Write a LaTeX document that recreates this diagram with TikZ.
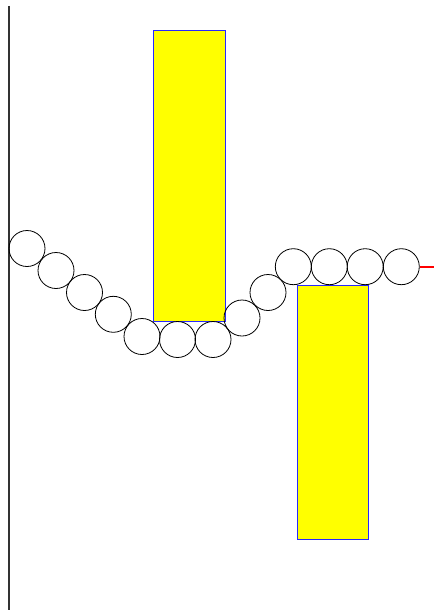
\documentclass[tikz,border=0pt]{standalone}
\definecolor{fillyellow}{RGB}{255,255,0}
\definecolor{edgeblue}{RGB}{40,40,255}
\definecolor{edgered}{RGB}{255,0,0}
\begin{document}
\begin{tikzpicture}[x=1pt,y=-1pt,
  ball/.style={draw=black,line width=0.8pt,circle,minimum size=36pt,inner sep=0pt},
  block/.style={draw=edgeblue,line width=0.8pt,fill=fillyellow}]
\useasboundingbox (0,0) rectangle (434,610);
\draw[line width=1.6pt,black!80] (9,6) -- (9,610);
\node[block,minimum width=72pt,minimum height=291pt,inner sep=0pt,anchor=north west] (r1) at (152.5,30) {};
\node[block,minimum width=71pt,minimum height=254pt,inner sep=0pt,anchor=north west] (r2) at (296.5,285) {};
\node[ball] (c1) at (27,248.5) {};
\node[ball] (c2) at (56,270.5) {};
\node[ball] (c3) at (84.5,292.5) {};
\node[ball] (c4) at (113.3,314.3) {};
\node[ball] (c5) at (142,336.5) {};
\node[ball] (c6) at (177.5,339.5) {};
\node[ball] (c7) at (213,339.5) {};
\node[ball] (c8) at (242,318) {};
\node[ball] (c9) at (268,292.5) {};
\node[ball] (c10) at (293.3,266.7) {};
\node[ball] (c11) at (329.3,266.7) {};
\node[ball] (c12) at (365.2,266.7) {};
\node[ball] (c13) at (401.3,266.7) {};
\coordinate (e) at (434,266.7);
\draw[edgered,line width=1.8pt] (c13.east) -- (e);
\end{tikzpicture}
\end{document}
